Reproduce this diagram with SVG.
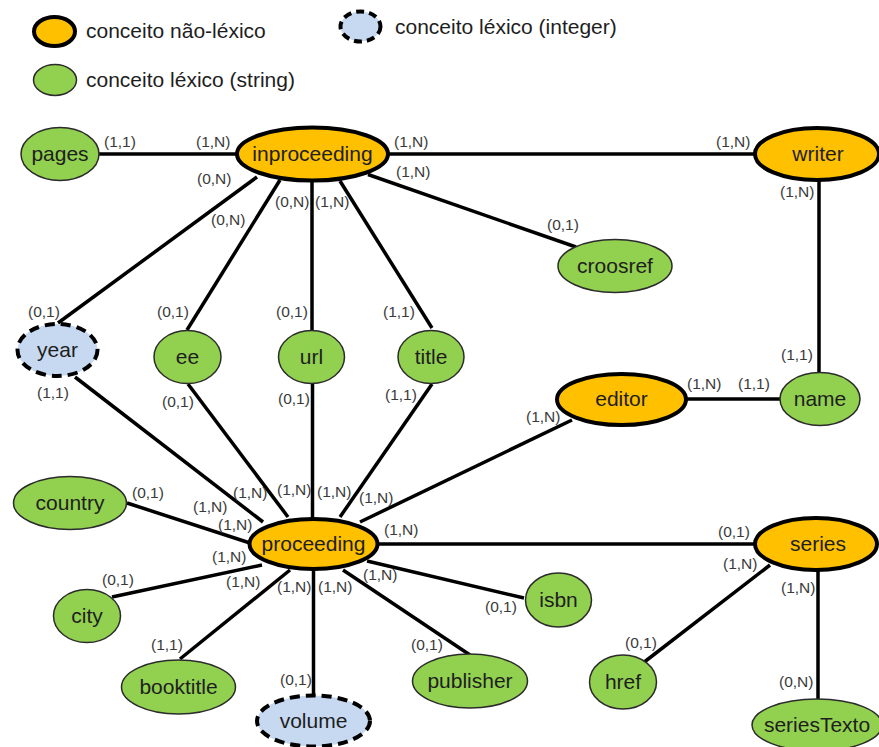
<svg xmlns="http://www.w3.org/2000/svg" width="879" height="747" viewBox="0 0 879 747">
  <style>
    .nl { fill: #FFC000; stroke: #000; stroke-width: 4; }
    .ls { fill: #92D050; stroke: #2b2b2b; stroke-width: 1.5; }
    .li { fill: #C6D9F0; stroke: #000; stroke-width: 4; stroke-dasharray: 10 6; }
    .t  { font-family: "Liberation Sans", Arial, sans-serif; font-size: 21px; fill: #1e1e1e; text-anchor: middle; }
    .lg { font-family: "Liberation Sans", Arial, sans-serif; font-size: 21px; fill: #1e1e1e; }
    .c  { font-family: "Liberation Sans", Arial, sans-serif; font-size: 15.5px; fill: #3a3a3a; }
    #connectors line { stroke: #000; stroke-width: 3.5; }
  </style>

  <rect width="879" height="747" fill="#fff"/>

  <!-- legend -->
  <g id="legend">
    <ellipse class="nl" cx="54.5" cy="31.5" rx="20.5" ry="14.5"/>
    <text class="lg" x="86" y="38">conceito não-léxico</text>
    <ellipse class="li" cx="360.5" cy="26.5" rx="20" ry="15" style="stroke-dasharray: 8 5"/>
    <text class="lg" x="395" y="34">conceito léxico (integer)</text>
    <ellipse class="ls" cx="55" cy="80" rx="21.5" ry="15.5"/>
    <text class="lg" x="86" y="87">conceito léxico (string)</text>
  </g>

  <!-- connectors -->
  <g id="connectors">
    <line x1="99" y1="154" x2="237" y2="154"/>
    <line x1="388" y1="154" x2="755" y2="154"/>
    <line x1="368" y1="174.5" x2="576" y2="247"/>
    <line x1="257" y1="177" x2="58" y2="323"/>
    <line x1="280" y1="180" x2="187" y2="330"/>
    <line x1="312" y1="180" x2="312" y2="331"/>
    <line x1="340" y1="181" x2="432" y2="328"/>
    <line x1="819" y1="180" x2="819" y2="373"/>
    <line x1="686" y1="399" x2="780" y2="399"/>
    <line x1="75" y1="377" x2="263" y2="522"/>
    <line x1="188" y1="384" x2="288" y2="517"/>
    <line x1="312.5" y1="383" x2="312.5" y2="519"/>
    <line x1="432" y1="384" x2="340" y2="517"/>
    <line x1="572" y1="420" x2="360" y2="522"/>
    <line x1="127" y1="503" x2="250" y2="543"/>
    <line x1="112" y1="597" x2="262" y2="565"/>
    <line x1="180" y1="659" x2="290" y2="570"/>
    <line x1="313.5" y1="569" x2="313.5" y2="696"/>
    <line x1="343" y1="570" x2="470" y2="655"/>
    <line x1="367" y1="561" x2="524" y2="598"/>
    <line x1="378" y1="544" x2="756" y2="544"/>
    <line x1="770" y1="565" x2="643" y2="663"/>
    <line x1="818" y1="570" x2="818" y2="700"/>
  </g>

  <!-- cardinalities -->
  <g id="cardinalities">
    <text class="c" x="104" y="147">(1,1)</text>
    <text class="c" x="196" y="147">(1,N)</text>
    <text class="c" x="394" y="147">(1,N)</text>
    <text class="c" x="396" y="177">(1,N)</text>
    <text class="c" x="197" y="184">(0,N)</text>
    <text class="c" x="211" y="225">(0,N)</text>
    <text class="c" x="275" y="207">(0,N)</text>
    <text class="c" x="315" y="207">(1,N)</text>
    <text class="c" x="716" y="147">(1,N)</text>
    <text class="c" x="780" y="197">(1,N)</text>
    <text class="c" x="547" y="230">(0,1)</text>

    <text class="c" x="28" y="317">(0,1)</text>
    <text class="c" x="37" y="398">(1,1)</text>
    <text class="c" x="157" y="317">(0,1)</text>
    <text class="c" x="162" y="407">(0,1)</text>
    <text class="c" x="276" y="317">(0,1)</text>
    <text class="c" x="278" y="404">(0,1)</text>
    <text class="c" x="383" y="317">(1,1)</text>
    <text class="c" x="385" y="400">(1,1)</text>
    <text class="c" x="526" y="422">(1,N)</text>
    <text class="c" x="687" y="389">(1,N)</text>
    <text class="c" x="738" y="389">(1,1)</text>
    <text class="c" x="781" y="360">(1,1)</text>

    <text class="c" x="132" y="498">(0,1)</text>
    <text class="c" x="193" y="512">(1,N)</text>
    <text class="c" x="233" y="498">(1,N)</text>
    <text class="c" x="277" y="495">(1,N)</text>
    <text class="c" x="317" y="497">(1,N)</text>
    <text class="c" x="359" y="503">(1,N)</text>
    <text class="c" x="218" y="530">(1,N)</text>
    <text class="c" x="384" y="535">(1,N)</text>
    <text class="c" x="212" y="562">(1,N)</text>
    <text class="c" x="226" y="587">(1,N)</text>
    <text class="c" x="277" y="592">(1,N)</text>
    <text class="c" x="318" y="592">(1,N)</text>
    <text class="c" x="363" y="580">(1,N)</text>
    <text class="c" x="102" y="585">(0,1)</text>
    <text class="c" x="151" y="650">(1,1)</text>
    <text class="c" x="280" y="685">(0,1)</text>
    <text class="c" x="411" y="650">(0,1)</text>
    <text class="c" x="485" y="612">(0,1)</text>

    <text class="c" x="718" y="537">(0,1)</text>
    <text class="c" x="723" y="569">(1,N)</text>
    <text class="c" x="781" y="593">(1,N)</text>
    <text class="c" x="625" y="648">(0,1)</text>
    <text class="c" x="779" y="687">(0,N)</text>
  </g>

  <!-- nodes -->
  <g id="pages"><ellipse class="ls" cx="60" cy="154" rx="39" ry="26.5"/><text class="t" x="60" y="161">pages</text></g>
  <g id="inproceeding"><ellipse class="nl" cx="312.5" cy="154" rx="75.5" ry="26.5"/><text class="t" x="312.5" y="161">inproceeding</text></g>
  <g id="writer"><ellipse class="nl" cx="817" cy="154" rx="62" ry="26"/><text class="t" x="818" y="161">writer</text></g>
  <g id="croosref"><ellipse class="ls" cx="615" cy="266" rx="57" ry="26.5"/><text class="t" x="615" y="273">croosref</text></g>
  <g id="year"><ellipse class="li" cx="57.5" cy="350" rx="40" ry="26"/><text class="t" x="57.5" y="357">year</text></g>
  <g id="ee"><ellipse class="ls" cx="187.5" cy="357" rx="33.5" ry="26.5"/><text class="t" x="187.5" y="364">ee</text></g>
  <g id="url"><ellipse class="ls" cx="311.5" cy="357" rx="33" ry="26.5"/><text class="t" x="311.5" y="364">url</text></g>
  <g id="title"><ellipse class="ls" cx="431" cy="357" rx="33" ry="26.5"/><text class="t" x="431" y="364">title</text></g>
  <g id="editor"><ellipse class="nl" cx="621.5" cy="399.5" rx="64.5" ry="25.5"/><text class="t" x="621.5" y="406">editor</text></g>
  <g id="name"><ellipse class="ls" cx="820" cy="399" rx="40" ry="26.5"/><text class="t" x="820" y="406">name</text></g>
  <g id="country"><ellipse class="ls" cx="70" cy="503" rx="56.5" ry="26.5"/><text class="t" x="70" y="510">country</text></g>
  <g id="proceeding"><ellipse class="nl" cx="313.5" cy="544" rx="64" ry="25"/><text class="t" x="313.5" y="551">proceeding</text></g>
  <g id="series"><ellipse class="nl" cx="816" cy="544" rx="61" ry="26"/><text class="t" x="818" y="551">series</text></g>
  <g id="city"><ellipse class="ls" cx="87" cy="616" rx="33.5" ry="26.5"/><text class="t" x="87" y="623">city</text></g>
  <g id="isbn"><ellipse class="ls" cx="558.5" cy="600" rx="33" ry="27"/><text class="t" x="558.5" y="607">isbn</text></g>
  <g id="booktitle"><ellipse class="ls" cx="178.5" cy="687" rx="57" ry="27"/><text class="t" x="178.5" y="694">booktitle</text></g>
  <g id="volume"><ellipse class="li" cx="313.5" cy="721" rx="56.5" ry="25.5"/><text class="t" x="313.5" y="728">volume</text></g>
  <g id="publisher"><ellipse class="ls" cx="470" cy="681" rx="57.5" ry="27"/><text class="t" x="470" y="688">publisher</text></g>
  <g id="href"><ellipse class="ls" cx="623" cy="682" rx="33.5" ry="27"/><text class="t" x="623" y="689">href</text></g>
  <g id="seriesTexto"><ellipse class="ls" cx="817" cy="725" rx="65" ry="26"/><text class="t" x="817" y="732">seriesTexto</text></g>
</svg>
